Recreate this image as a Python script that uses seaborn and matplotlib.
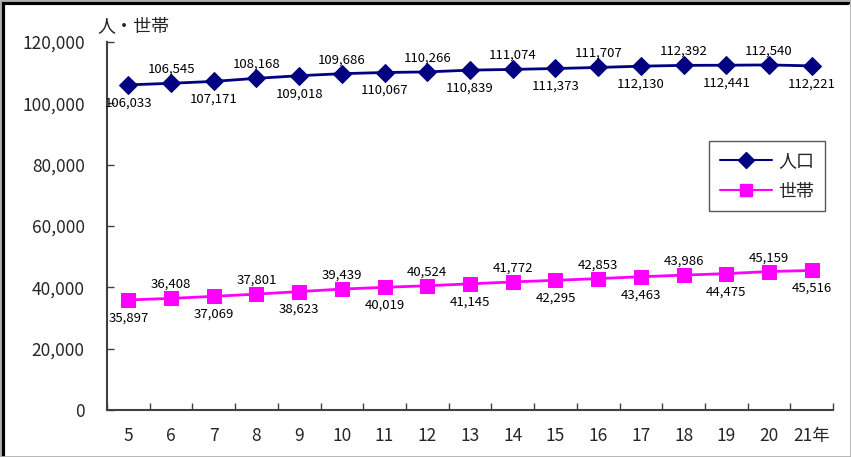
import matplotlib
matplotlib.use("Agg")
import matplotlib.pyplot as plt
import matplotlib.patches as mpatches
from matplotlib.lines import Line2D
from matplotlib.ticker import FuncFormatter, FixedLocator
import seaborn as sns
import pandas as pd

years = ["5", "6", "7", "8", "9", "10", "11", "12", "13", "14", "15", "16", "17", "18", "19", "20", "21"]
year_labels = years[:-1] + ["21年"]
population = [106033, 106545, 107171, 108168, 109018, 109686, 110067, 110266, 110839,
              111074, 111373, 111707, 112130, 112392, 112441, 112540, 112221]
households = [35897, 36408, 37069, 37801, 38623, 39439, 40019, 40524, 41145,
              41772, 42295, 42853, 43463, 43986, 44475, 45159, 45516]
series_names = ["人口", "世帯"]
y_label = "人・世帯"

sns.set_theme(style="white")
plt.rcParams['font.family'] = ['Noto Sans CJK JP', 'DejaVu Sans']

navy = "#000080"
magenta = "#FF00FF"

fig = plt.figure(figsize=(8.51, 4.57), dpi=100)
ax = fig.add_axes([0.1257, 0.1028, 0.8533, 0.8052])

df = pd.DataFrame({"year": years, "pop": population, "hh": households})
sns.lineplot(data=df, x="year", y="pop", ax=ax, color=navy, marker="D", markersize=9,
             markeredgecolor=navy, linewidth=2, sort=False)
sns.lineplot(data=df, x="year", y="hh", ax=ax, color=magenta, marker="s", markersize=10,
             markeredgecolor=magenta, linewidth=2, sort=False)

for i, (p, h) in enumerate(zip(population, households)):
    off = -13 if i % 2 == 0 else 10
    ax.annotate(f"{p:,}", (i, p), textcoords="offset points", xytext=(0, off),
                ha="center", va="center", fontsize=9.5, color="black")
    ax.annotate(f"{h:,}", (i, h), textcoords="offset points", xytext=(0, off),
                ha="center", va="center", fontsize=9.5, color="black")

ax.set_xlim(-0.5, len(years) - 0.5)
ax.set_ylim(0, 120000)
ax.set_yticks(range(0, 120001, 20000))
ax.yaxis.set_major_formatter(FuncFormatter(lambda v, _: f"{int(v):,}"))
ax.set_xticks(range(len(years)))
ax.set_xticklabels(year_labels)
ax.xaxis.set_minor_locator(FixedLocator([i - 0.5 for i in range(len(years) + 1)]))
ax.tick_params(axis="x", which="major", length=0, pad=12, labelsize=12.5)
ax.tick_params(axis="x", which="minor", length=5, direction="in", width=1, color="#404040", bottom=True)
ax.tick_params(axis="y", which="major", length=5, direction="in", width=1, color="#404040",
               pad=16, labelsize=12.5, left=True)
ax.set_xlabel("")
ax.set_ylabel("")
for s in ["top", "right"]:
    ax.spines[s].set_visible(False)
for s in ["left", "bottom"]:
    ax.spines[s].set_color("#404040")
    ax.spines[s].set_linewidth(1.5)

fig.text(97 / 851, 1 - 27 / 457, y_label, ha="left", va="center", fontsize=13)

handles = [Line2D([], [], color=navy, marker="D", markersize=8, linewidth=1.5),
           Line2D([], [], color=magenta, marker="s", markersize=9, linewidth=1.5)]
leg = ax.legend(handles, series_names, loc="upper left", bbox_to_anchor=(0.829, 0.731),
                frameon=True, fancybox=False, edgecolor="#303030", fontsize=13,
                handlelength=2.9, handletextpad=0.35, borderaxespad=0, labelspacing=0.7,
                borderpad=0.6)
leg.get_frame().set_linewidth(1)

# figure frame
fig.patches.append(mpatches.Rectangle((0, 0), 1, 1, transform=fig.transFigure, fill=False,
                                      edgecolor="#b0b0b0", linewidth=2, zorder=10))
fig.add_artist(Line2D([0.003, 0.003], [0, 1], transform=fig.transFigure, color="black", linewidth=3))
fig.add_artist(Line2D([0, 0.997], [0.994, 0.994], transform=fig.transFigure, color="black", linewidth=3))

fig.savefig("out.png", dpi=100)
